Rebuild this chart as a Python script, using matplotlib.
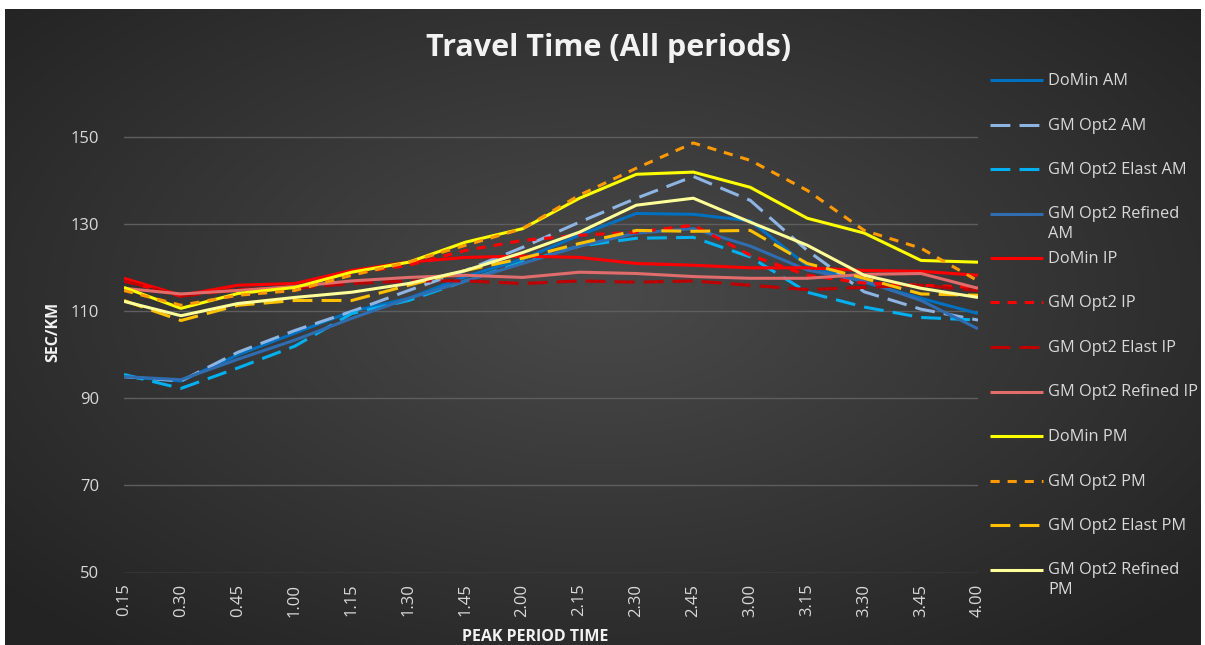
import numpy as np
import matplotlib.pyplot as plt
from matplotlib.lines import Line2D

plt.rcParams['font.family'] = ['Open Sans', 'DejaVu Sans']

# время пикового периода
times = ['0.15', '0.30', '0.45', '1.00', '1.15', '1.30', '1.45', '2.00',
         '2.15', '2.30', '2.45', '3.00', '3.15', '3.30', '3.45', '4.00']

# время в пути, сек/км
domin_am = [95, 94, 100, 105, 110, 113, 118, 122, 127.5, 132.5, 132.3, 130.8, 120.5, 116.7, 113, 109.5]
gm_am = [95, 94, 100.6, 105.6, 110, 114.8, 119.4, 124.7, 130.5, 136, 141, 135.5, 124, 114.5, 110.5, 108]
gm_elast_am = [95.5, 92.3, 97, 102, 109.5, 112.5, 117, 121.3, 125, 126.8, 127, 122.5, 114.4, 111, 108.6, 108]
gm_ref_am = [95, 94.3, 99, 103.4, 108.4, 113, 117, 121, 125, 128, 129, 125, 119.5, 117, 112.5, 106]
domin_ip = [117.6, 113.7, 116, 116.4, 119.4, 121.3, 122.4, 122.7, 122.4, 121, 120.6, 120, 120, 119.4, 119.2, 118.3]
gm_ip = [117, 113.5, 115, 115.5, 118.7, 120.6, 124, 126.3, 127.5, 128.2, 129.8, 122.9, 118.3, 116.5, 116, 115.5]
gm_elast_ip = [117, 113.5, 115, 115.3, 116.4, 117, 117, 116.4, 117, 116.7, 117, 116, 115, 115.5, 116, 114.8]
gm_ref_ip = [115.3, 114, 114.8, 115.7, 117, 117.8, 118.3, 117.8, 119, 118.7, 118, 117.6, 117.6, 118.5, 118.7, 115.3]
domin_pm = [115.5, 110.7, 114.1, 115.5, 119, 121.3, 125.9, 129, 136, 141.5, 142, 138.5, 131.4, 128, 121.7, 121.3]
gm_pm = [114.8, 111.4, 113.7, 114.8, 118.3, 121.3, 125.2, 129, 136.7, 142.9, 148.7, 144.7, 137.8, 128.6, 124.5, 117]
gm_elast_pm = [112.5, 107.9, 111.4, 112.5, 112.5, 116, 119.4, 122.2, 125.6, 128.6, 128.4, 128.6, 121, 117.6, 114, 113.7]
gm_ref_pm = [112.3, 109, 111.8, 113.2, 114.4, 116.4, 119.4, 123.5, 128.2, 134.4, 136, 130.5, 125.2, 118.3, 115.3, 113.2]

labels = ['DoMin AM', 'GM Opt2 AM', 'GM Opt2 Elast AM', 'GM Opt2 Refined\nAM',
          'DoMin IP', 'GM Opt2 IP', 'GM Opt2 Elast IP', 'GM Opt2 Refined IP',
          'DoMin PM', 'GM Opt2 PM', 'GM Opt2 Elast PM', 'GM Opt2 Refined\nPM']
series = [domin_am, gm_am, gm_elast_am, gm_ref_am,
          domin_ip, gm_ip, gm_elast_ip, gm_ref_ip,
          domin_pm, gm_pm, gm_elast_pm, gm_ref_pm]
colors = ['#0070C0', '#8DB4E2', '#00B0F0', '#2F6DB0',
          '#FF0000', '#FF0000', '#C00000', '#E06C6C',
          '#FFFF00', '#FF9900', '#FFC000', '#FFFF99']
long_dash = (6.5, 3.0)
short_dash = (3.0, 2.6)
dashes = [None, long_dash, long_dash, None,
          None, short_dash, long_dash, None,
          None, short_dash, long_dash, None]

fig = plt.figure(figsize=(12.05, 6.45), dpi=100)
fig.patch.set_facecolor('white')

# фон с радиальным градиентом
bg = fig.add_axes([0.004, 0.0, 0.992, 0.986])
bg.set_axis_off()
yy, xx = np.mgrid[0:1:300j, 0:1:600j]
r = np.sqrt(((xx - 0.5) / 0.75) ** 2 + ((yy - 0.45) / 0.8) ** 2)
shade = np.clip(0.29 - 0.17 * r, 0.14, 0.3)
bg.imshow(np.dstack([shade] * 3), aspect='auto', extent=[0, 1, 0, 1])

ax = fig.add_axes([124 / 1205, 1 - 572.5 / 645, 854 / 1205, (572.5 - 72) / 645])
ax.set_facecolor('none')
x = np.arange(len(times))
for vals, c, d in zip(series, colors, dashes):
    line, = ax.plot(x, vals, color=c, lw=2.2, solid_capstyle='butt')
    if d is not None:
        line.set_dashes(d)

ax.set_xlim(0, len(times) - 1)
ax.set_ylim(50, 165)
ax.set_yticks([50, 70, 90, 110, 130, 150])
ax.set_xticks(x)
ax.set_xticklabels(times, rotation=90)
ax.tick_params(colors='#D9D9D9', labelsize=12, length=0)
ax.tick_params(axis='y', pad=18)
ax.tick_params(axis='x', pad=8)
ax.grid(axis='y', color='#5E5E5E', lw=1)
ax.set_axisbelow(True)
for s in ax.spines.values():
    s.set_visible(False)

ax.set_xlabel('PEAK PERIOD TIME', color='#F2F2F2', fontsize=11.5, fontweight='bold')
ax.set_ylabel('SEC/KM', color='#F2F2F2', fontsize=11.5, fontweight='bold')
ax.xaxis.set_label_coords(0.482, -0.113)
ax.yaxis.set_label_coords(-0.074, 0.48)

fig.text(0.505, 0.925, 'Travel Time (All periods)', color='#F2F2F2', fontsize=22,
         fontweight='bold', ha='center', va='center')

# легенда справа
for i, (lab, c, d) in enumerate(zip(labels, colors, dashes)):
    y = 1 - (80 + i * 44.5) / 645
    h = Line2D([990 / 1205, 1043 / 1205], [y, y], color=c, lw=2.2, solid_capstyle='butt')
    if d is not None:
        h.set_dashes(d)
    fig.add_artist(h)
    fig.text(1048 / 1205, y + 7 / 645, lab, color='#D9D9D9', fontsize=11.8,
             ha='left', va='top', linespacing=1.3)

fig.savefig('out.png', dpi=100)
